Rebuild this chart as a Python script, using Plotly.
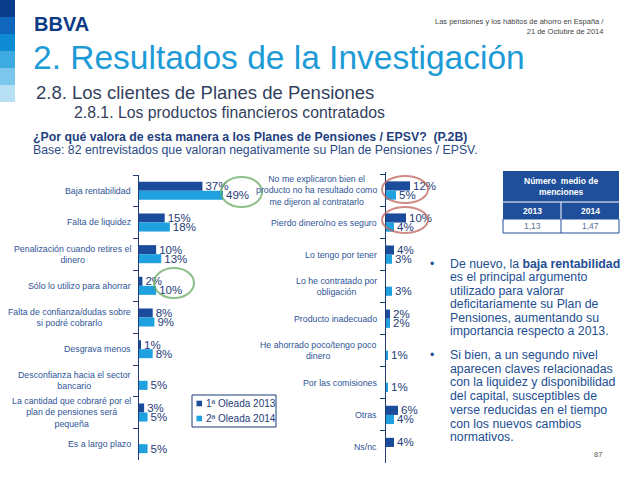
import plotly.graph_objects as go

W, H = 638, 479

# --- datos ---
series = ["1ª Oleada 2013", "2ª Oleada 2014"]

motivos_izq = [
    "Baja rentabilidad",
    "Falta de liquidez",
    "Penalización cuando retires el<br>dinero",
    "Sólo lo utilizo para ahorrar",
    "Falta de confianza/dudas sobre<br>si podré cobrarlo",
    "Desgrava menos",
    "Desconfianza hacia el sector<br>bancario",
    "La cantidad que cobraré por el<br>plan de pensiones será<br>pequeña",
    "Es a largo plazo",
]
oleada_2013_izq = [37, 15, 10, 2, 8, 1, None, 3, None]
oleada_2014_izq = [49, 18, 13, 10, 9, 8, 5, 5, 5]

motivos_der = [
    "No me explicaron bien el<br>producto no ha resultado como<br>me dijeron al contratarlo",
    "Pierdo dinero/no es seguro",
    "Lo tengo por tener",
    "Lo he contratado por<br>obligación",
    "Producto inadecuado",
    "He ahorrado poco/tengo poco<br>dinero",
    "Por las comisiones",
    "Otras",
    "Ns/nc",
]
oleada_2013_der = [12, 10, 4, None, 2, None, None, 6, 4]
oleada_2014_der = [5, 4, 3, 3, 2, 1, 1, 4, None]

anios_tabla = ["2013", "2014"]
menciones = ["1,13", "1,47"]

bullet_1 = [
    "De nuevo, la <b>baja rentabilidad</b>",
    "es el principal argumento",
    "utilizado para valorar",
    "deficitariamente su Plan de",
    "Pensiones, aumentando su",
    "importancia respecto a 2013.",
]
bullet_2 = [
    "Si bien, a un segundo nivel",
    "aparecen claves relacionadas",
    "con la liquidez y disponibilidad",
    "del capital, susceptibles de",
    "verse reducidas en el tiempo",
    "con los nuevos cambios",
    "normativos.",
]

COL_2013 = "#1b4b9b"
COL_2014 = "#1fa1e0"
colores = [COL_2013, COL_2014]
NAVY = "#1f3b78"
LABEL = "#2f5597"
FONT = "Liberation Sans, Arial, sans-serif"


def px(x):
    return x / W


def py(y):
    return 1 - y / H


fig = go.Figure()

for i, (vals_izq, vals_der) in enumerate([
    (oleada_2013_izq, oleada_2013_der),
    (oleada_2014_izq, oleada_2014_der),
]):
    fig.add_trace(go.Bar(
        y=motivos_izq, x=vals_izq, orientation="h", name=series[i],
        marker=dict(color=colores[i], line=dict(width=0)),
        texttemplate="%{x}%", textposition="outside", constraintext="none",
        textfont=dict(size=11.5, color=NAVY, family=FONT),
        cliponaxis=False, xaxis="x", yaxis="y", showlegend=False,
    ))
    fig.add_trace(go.Bar(
        y=motivos_der, x=vals_der, orientation="h", name=series[i],
        marker=dict(color=colores[i], line=dict(width=0)),
        texttemplate="%{x}%", textposition="outside", constraintext="none",
        textfont=dict(size=11.5, color=NAVY, family=FONT),
        cliponaxis=False, xaxis="x2", yaxis="y2", showlegend=False,
    ))

ejes_y = dict(
    type="category", autorange="reversed", showline=True, linecolor=NAVY,
    linewidth=1, ticks="outside", tickson="boundaries", ticklen=5,
    tickcolor=NAVY, showticklabels=False, showgrid=False, zeroline=False,
)
ejes_x = dict(visible=False, showgrid=False, zeroline=False)

fig.update_layout(
    width=W, height=H,
    margin=dict(l=0, r=0, t=0, b=0),
    paper_bgcolor="white", plot_bgcolor="white",
    barmode="group", bargap=0.43, bargroupgap=0,
    font=dict(family=FONT, color=NAVY),
    showlegend=False,
    xaxis=dict(domain=[px(139), px(259)], range=[0, 70], anchor="y", **ejes_x),
    yaxis=dict(domain=[py(460), py(175)], anchor="x",
               categoryorder="array", categoryarray=motivos_izq, **ejes_y),
    xaxis2=dict(domain=[px(386), px(446)], range=[0, 30], anchor="y2", **ejes_x),
    yaxis2=dict(domain=[py(463), py(172)], anchor="x2",
                categoryorder="array", categoryarray=motivos_der, **ejes_y),
)

anns = []
shapes = []

# etiquetas de categorías
for cat in motivos_izq:
    anns.append(dict(xref="paper", yref="y", x=px(133), y=cat, text=cat,
                     xanchor="right", yanchor="middle", align="center",
                     showarrow=False, font=dict(size=8.8, color=LABEL)))
for cat in motivos_der:
    anns.append(dict(xref="paper", yref="y2", x=px(379), y=cat, text=cat,
                     xanchor="right", yanchor="middle", align="center",
                     showarrow=False, font=dict(size=8.8, color=LABEL)))

# leyenda
shapes.append(dict(type="rect", xref="paper", yref="paper",
                   x0=px(192), x1=px(276), y0=py(427), y1=py(395),
                   fillcolor="white", line=dict(color=NAVY, width=1)))
for k, nombre in enumerate(series):
    yc = 403.5 + 15 * k
    shapes.append(dict(type="rect", xref="paper", yref="paper",
                       x0=px(196.5), x1=px(202), y0=py(yc + 2.8), y1=py(yc - 2.8),
                       fillcolor=colores[k], line=dict(width=0)))
    anns.append(dict(xref="paper", yref="paper", x=px(204), y=py(yc), text=nombre,
                     xanchor="left", yanchor="middle", showarrow=False,
                     font=dict(size=10, color=NAVY)))

# franja lateral
franja = ["#0c3d8c", "#1065bd", "#0f8bd4", "#3daae2", "#7cc6ec", "#b8e0f5"]
for k, c in enumerate(franja):
    shapes.append(dict(type="rect", xref="paper", yref="paper",
                       x0=0, x1=px(15), y0=py(17 * (k + 1)), y1=py(17 * k),
                       fillcolor=c, line=dict(width=0)))

# cabecera
cabecera = [
    dict(x=px(32), y=py(24), text="<b>BBVA</b>", xanchor="left",
         font=dict(size=20, color="#0c3a86")),
    dict(x=px(606), y=py(26), text="Las pensiones y los hábitos de ahorro en España /<br>21 de Octubre de 2014",
         xanchor="right", align="right", font=dict(size=7.5, color="#444444")),
    dict(x=px(31), y=py(57), text="2. Resultados de la Investigación",
         xanchor="left", font=dict(size=33.5, color="#1d9bd7")),
    dict(x=px(34), y=py(92), text="2.8. Los clientes de Planes de Pensiones",
         xanchor="left", font=dict(size=18.5, color="#333f5e")),
    dict(x=px(72), y=py(112.5), text="2.8.1. Los productos financieros contratados",
         xanchor="left", font=dict(size=15.8, color="#333f5e")),
    dict(x=px(31), y=py(137), text="<b>¿Por qué valora de esta manera a los Planes de Pensiones / EPSV?  (P.2B)</b>",
         xanchor="left", font=dict(size=12.3, color="#1f3f7f")),
    dict(x=px(31), y=py(150), text="Base: 82 entrevistados que valoran negativamente su Plan de Pensiones / EPSV.",
         xanchor="left", font=dict(size=12.3, color="#2b4a86")),
    dict(x=px(604), y=py(454), text="87", xanchor="right",
         font=dict(size=7.5, color="#555555")),
]
for a in cabecera:
    a.update(xref="paper", yref="paper", yanchor="middle", showarrow=False)
anns += cabecera

# tabla de menciones
TAB = "#1f4f9a"
shapes += [
    dict(type="rect", xref="paper", yref="paper", x0=px(503), x1=px(619),
         y0=py(219), y1=py(171), fillcolor=TAB, line=dict(width=0)),
    dict(type="rect", xref="paper", yref="paper", x0=px(503), x1=px(619),
         y0=py(233), y1=py(219), fillcolor="white", line=dict(color=TAB, width=1)),
    dict(type="line", xref="paper", yref="paper", x0=px(503), x1=px(619),
         y0=py(202), y1=py(202), line=dict(color="white", width=1)),
    dict(type="line", xref="paper", yref="paper", x0=px(561), x1=px(561),
         y0=py(219), y1=py(202), line=dict(color="white", width=1)),
    dict(type="line", xref="paper", yref="paper", x0=px(561), x1=px(561),
         y0=py(233), y1=py(219), line=dict(color=TAB, width=1)),
]
anns.append(dict(xref="paper", yref="paper", x=px(561), y=py(186.5),
                 text="<b>Número  medio de<br>menciones</b>", showarrow=False,
                 xanchor="center", yanchor="middle", align="center",
                 font=dict(size=8.5, color="white")))
for j, (anio, val) in enumerate(zip(anios_tabla, menciones)):
    cx = px(532 + 58 * j)
    anns.append(dict(xref="paper", yref="paper", x=cx, y=py(210.5),
                     text=f"<b>{anio}</b>", showarrow=False, xanchor="center",
                     yanchor="middle", font=dict(size=8.5, color="white")))
    anns.append(dict(xref="paper", yref="paper", x=cx, y=py(226),
                     text=val, showarrow=False, xanchor="center",
                     yanchor="middle", font=dict(size=8.5, color="#5b6f94")))

# texto de conclusiones
TXT = "#224e92"
for bloque, y0, paso in [(bullet_1, 264, 13.4), (bullet_2, 355, 13.7)]:
    anns.append(dict(xref="paper", yref="paper", x=px(428), y=py(y0), text="•",
                     showarrow=False, xanchor="left", yanchor="middle",
                     font=dict(size=12.3, color=TXT)))
    for k, linea in enumerate(bloque):
        anns.append(dict(xref="paper", yref="paper", x=px(448), y=py(y0 + k * paso),
                         text=linea, showarrow=False, xanchor="left",
                         yanchor="middle", font=dict(size=12.3, color=TXT)))

# círculos a mano alzada
for (x0, y0, x1, y1, c) in [
    (221, 177, 262, 207, "#6aab62"),
    (154, 268, 194, 298, "#6aab62"),
    (382, 176, 428, 203, "#c0655e"),
    (382, 207, 428, 233, "#c0655e"),
]:
    shapes.append(dict(type="circle", xref="paper", yref="paper",
                       x0=px(x0), x1=px(x1), y0=py(y1), y1=py(y0),
                       line=dict(color=c, width=2), opacity=0.75))

fig.update_layout(annotations=anns, shapes=shapes)

fig.write_html("out.html", config={"displayModeBar": False},
               post_script="document.body.style.margin='0';")
